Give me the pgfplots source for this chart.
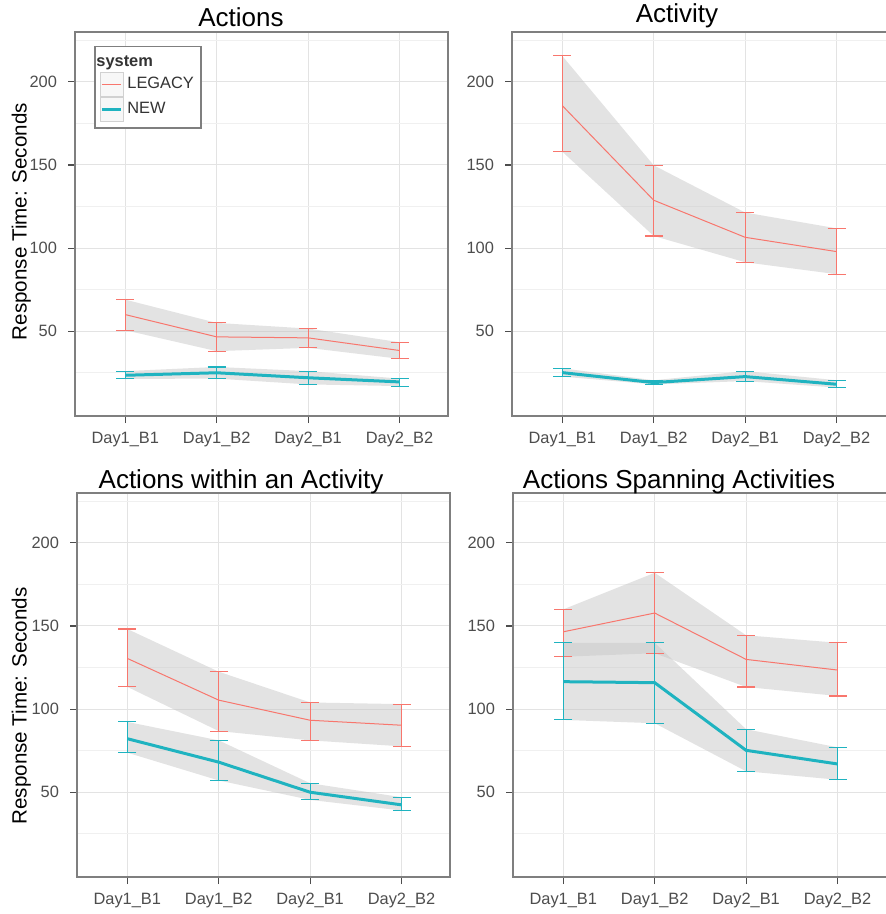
\documentclass[border=0pt]{standalone}
\usepackage{fontspec}
\setmainfont{Liberation Sans}
\usepackage{pgfplots}
\pgfplotsset{compat=1.18}
\usepackage{pgfplotstable}
\usepgfplotslibrary{fillbetween}
\definecolor{legc}{HTML}{F8766D}
\definecolor{newc}{HTML}{1FB3C0}
\definecolor{tickc}{HTML}{4D4D4D}
\definecolor{gridc}{HTML}{E3E3E3}
\definecolor{mgridc}{HTML}{F0F0F0}
\definecolor{framec}{HTML}{7F7F7F}

\pgfplotstableread{
x lm llo lhi nm nlo nhi
0 60 50.6 69 23.5 21.3 26
1 46.6 38 55 25 21.5 28.5
2 46 40 51.6 22 18 26
3 38.4 33.4 43.4 19.5 17 21.5
}\tabA
\pgfplotstableread{
x lm llo lhi nm nlo nhi
0 185.7 158 215.6 25.1 22.7 27.7
1 128.8 107.3 149.8 19.1 18 20.5
2 106.5 91.5 121.4 22.7 20 26
3 97.9 84.3 111.9 18.1 16.1 20.5
}\tabB
\pgfplotstableread{
x lm llo lhi nm nlo nhi
0 130.5 113.4 148.2 82.2 73.8 92.3
1 105.4 86.8 122.5 68.1 57.1 81.2
2 93.3 81.2 104 50 45.4 55.4
3 90.3 77.6 103 42.4 39 47
}\tabC
\pgfplotstableread{
x lm llo lhi nm nlo nhi
0 146.5 131.5 160 116.5 93.5 139.9
1 157.8 133.6 182 115.9 91.5 139.9
2 129.9 113.3 144.4 75.2 62.6 87.9
3 123.5 107.9 139.9 67 57.5 77
}\tabD

\pgfplotsset{
 ribbon/.style={fill=black!22, fill opacity=0.5, draw=none},
 panel/.style={
 scale only axis, width=186.5pt, height=192pt,
 xmin=-0.55, xmax=3.53, ymin=-1, ymax=230,
 xtick={0,1,2,3}, xticklabels={Day1\_B1,Day1\_B2,Day2\_B1,Day2\_B2},
 ytick={50,100,150,200}, minor ytick={25,75,125,175,225},
 grid=both, major grid style={gridc, line width=0.5pt}, minor grid style={mgridc, line width=0.4pt},
 axis line style={framec, line width=0.6pt},
 tick pos=left,
 tick align=outside, major tick length=3.5pt, minor tick length=0pt,
 tick style={tickc, line width=0.6pt},
 ticklabel style={font=\fontsize{8.2}{10}\selectfont, text=tickc},
 yticklabel style={xshift=-2pt},
 xticklabel style={yshift=-1pt},
 /pgf/number format/assume math mode=true,
 },
 rightpanel/.style={width=189pt, xmax=3.585}
}

\newcommand{\panelplots}[1]{%
 \addplot[name path=lh, draw=none, forget plot] table[x=x,y=lhi]{#1};
 \addplot[name path=ll, draw=none, forget plot] table[x=x,y=llo]{#1};
 \addplot[name path=nh, draw=none, forget plot] table[x=x,y=nhi]{#1};
 \addplot[name path=nl, draw=none, forget plot] table[x=x,y=nlo]{#1};
 \addplot[ribbon, forget plot] fill between[of=lh and ll];
 \addplot[ribbon, forget plot] fill between[of=nh and nl];
 \addplot[legc, line width=0.5pt, forget plot,
   error bars/.cd, y dir=both, y explicit,
   error bar style={legc, line width=0.55pt},
   error mark options={legc, rotate=90, mark size=4.5pt, line width=0.55pt}]
   table[x=x, y=lm, y error plus expr=\thisrow{lhi}-\thisrow{lm}, y error minus expr=\thisrow{lm}-\thisrow{llo}]{#1};
 \addplot[newc, line width=1.5pt, forget plot,
   error bars/.cd, y dir=both, y explicit,
   error bar style={newc, line width=0.55pt},
   error mark options={newc, rotate=90, mark size=4.5pt, line width=0.55pt}]
   table[x=x, y=nm, y error plus expr=\thisrow{nhi}-\thisrow{nm}, y error minus expr=\thisrow{nm}-\thisrow{nlo}]{#1};
}

\begin{document}
\begin{tikzpicture}

% Top-left: Actions
\begin{axis}[panel, at={(37.5pt,-208pt)}, anchor=south west,
  legend style={at={(0.052,0.9635)}, anchor=north west, draw=framec, line width=0.6pt,
    font=\fontsize{8.2}{10}\selectfont, text=black!80, row sep=0pt, column sep=1pt,
    nodes={inner xsep=1pt, inner ysep=1.5pt},
    inner xsep=2.5pt, inner ysep=3pt, fill=white},
  legend cell align=left]
\panelplots{\tabA}
\addlegendimage{empty legend}
\addlegendentry{\hspace*{-15.5pt}\textbf{system}}
\addlegendimage{legend image code/.code={\fill[black!3, draw=black!18, line width=0.4pt] (0pt,-6pt) rectangle (11.3pt,6pt); \draw[legc, line width=0.5pt] (0.8pt,0pt) -- (10.5pt,0pt);}}
\addlegendentry{LEGACY}
\addlegendimage{legend image code/.code={\fill[black!3, draw=black!18, line width=0.4pt] (0pt,-6pt) rectangle (11.3pt,6pt); \draw[newc, line width=1.3pt] (0.8pt,0pt) -- (10.5pt,0pt);}}
\addlegendentry{NEW}
\end{axis}

% Top-right: Activity
\begin{axis}[panel, rightpanel, at={(256pt,-208pt)}, anchor=south west]
\panelplots{\tabB}
\end{axis}

% Bottom-left
\begin{axis}[panel, at={(38.5pt,-438.5pt)}, anchor=south west]
\panelplots{\tabC}
\end{axis}

% Bottom-right
\begin{axis}[panel, rightpanel, at={(256.5pt,-438.5pt)}, anchor=south west]
\panelplots{\tabD}
\end{axis}

\node[font=\fontsize{13}{15}\selectfont, anchor=base, inner sep=0pt] at (120.5pt,-13.5pt) {Actions};
\node[font=\fontsize{13}{15}\selectfont, anchor=base, inner sep=0pt] at (338.5pt,-11.5pt) {Activity};
\node[font=\fontsize{13}{15}\selectfont, anchor=base, inner sep=0pt] at (120.5pt,-244pt) {Actions within an Activity};
\node[font=\fontsize{13}{15}\selectfont, anchor=base, inner sep=0pt] at (339.5pt,-244pt) {Actions Spanning Activities};
\node[font=\fontsize{10.3}{12}\selectfont, rotate=90, anchor=base, inner sep=0pt] at (13.3pt,-110.8pt) {Response Time: Seconds};
\node[font=\fontsize{10.3}{12}\selectfont, rotate=90, anchor=base, inner sep=0pt] at (13.3pt,-353pt) {Response Time: Seconds};

\pgfresetboundingbox
\useasboundingbox (0,0) rectangle (443pt,-457pt);
\end{tikzpicture}
\end{document}
